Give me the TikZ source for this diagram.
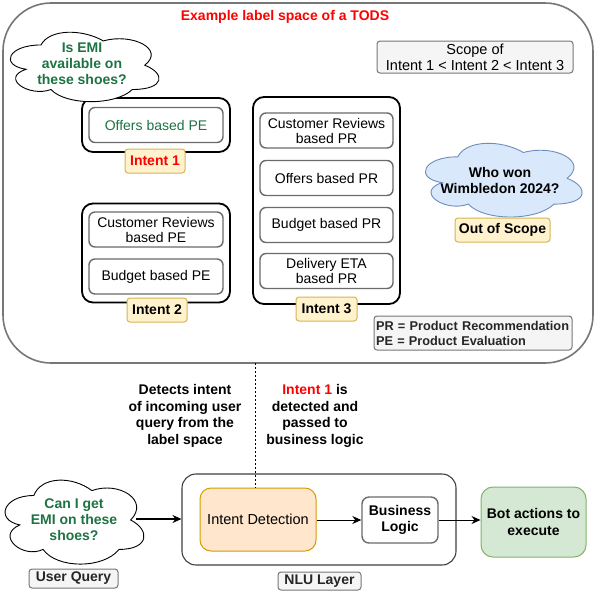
\documentclass[tikz,border=0pt]{standalone}
\usepackage{fontspec}
\setmainfont{Liberation Sans}
\usetikzlibrary{arrows.meta}
\definecolor{tgreen}{HTML}{1E7343}
\definecolor{yfill}{HTML}{FFF2CC}
\definecolor{ystroke}{HTML}{D6B656}
\definecolor{gfill}{HTML}{F5F5F5}
\definecolor{gstroke}{HTML}{777777}
\definecolor{ofill}{HTML}{FFE6CC}
\definecolor{ostroke}{HTML}{D79B00}
\definecolor{grfill}{HTML}{D5E8D4}
\definecolor{grstroke}{HTML}{82B366}
\definecolor{bfill}{HTML}{DAE8FC}
\definecolor{bstroke}{HTML}{6C8EBF}
\tikzset{
  base/.style={font=\fontsize{14}{15}\selectfont, align=center, inner sep=1pt},
  outerbox/.style={draw=gstroke, line width=1.6pt, rounded corners=48pt},
  container/.style={draw=black, line width=1.8pt, rounded corners=11pt, minimum width=148pt},
  itembox/.style={base, draw=gstroke!90!black, line width=1.4pt, rounded corners=6pt, minimum width=134pt, minimum height=35pt},
  ylabel/.style={base, font=\fontsize{14}{15}\selectfont\bfseries, fill=yfill, draw=ystroke, line width=1pt, rounded corners=3pt, minimum height=24pt},
  glabel/.style={base, font=\fontsize{14}{15}\selectfont\bfseries, text=black!85, fill=gfill, draw=gstroke, line width=1pt, rounded corners=3pt},
  cloudline/.style={draw=black, line width=0.9pt, fill=white},
  btext/.style={base, font=\fontsize{14}{16}\selectfont\bfseries},
  arr/.style={-{Stealth[length=9pt,width=8pt]}, line width=1pt},
}
% draw.io style cloud: #1 style, #2 x0, #3 y0, #4 w, #5 h
\newcommand{\dcloud}[5]{%
  \path[#1] ({#2+0.25*#4},{#3+0.25*#5})
    .. controls ({#2+0.05*#4},{#3+0.25*#5}) and ({#2},{#3+0.5*#5}) .. ({#2+0.16*#4},{#3+0.55*#5})
    .. controls ({#2},{#3+0.66*#5}) and ({#2+0.18*#4},{#3+0.9*#5}) .. ({#2+0.31*#4},{#3+0.8*#5})
    .. controls ({#2+0.4*#4},{#3+#5}) and ({#2+0.7*#4},{#3+#5}) .. ({#2+0.8*#4},{#3+0.8*#5})
    .. controls ({#2+#4},{#3+0.8*#5}) and ({#2+#4},{#3+0.6*#5}) .. ({#2+0.875*#4},{#3+0.5*#5})
    .. controls ({#2+#4},{#3+0.3*#5}) and ({#2+0.8*#4},{#3+0.1*#5}) .. ({#2+0.625*#4},{#3+0.2*#5})
    .. controls ({#2+0.5*#4},{#3+0.05*#5}) and ({#2+0.3*#4},{#3+0.05*#5}) .. cycle;}
\begin{document}
\begin{tikzpicture}[x=1pt,y=-1pt]
\useasboundingbox (0,0) rectangle (596,590);
\fill[white] (0,0) rectangle (596,590);

% outer label space
\node[outerbox, minimum width=590pt, minimum height=360pt, inner sep=0pt] (space) at (298,183) {};
\node[btext, text=red] (title) at (285,17) {Example label space of a TODS};

% intent 1
\node[container, minimum height=54pt] (c1) at (156,125) {};
\node[itembox, text=tgreen] (o1) at (156,125) {Offers based PE};
\node[ylabel, text=red, minimum width=60pt] (i1) at (155,161) {Intent 1};

% cloud 1
\dcloud{cloudline}{-0.5}{24.7}{166}{81}
\node[btext, text=tgreen] (q1) at (82,64) {Is EMI\\available on\\these shoes?};

% intent 2
\node[container, minimum height=99pt] (c2) at (156,253) {};
\node[itembox] (cr2) at (156,229.5) {Customer Reviews\\based PE};
\node[itembox] (b2) at (156,276.5) {Budget based PE};
\node[ylabel, minimum width=60pt] (i2) at (157,310) {Intent 2};

% intent 3
\node[container, minimum width=147pt, minimum height=207pt] (c3) at (326.5,200.5) {};
\node[itembox, minimum width=133pt] (cr3) at (326.5,130.5) {Customer Reviews\\based PR};
\node[itembox, minimum width=133pt] (o3) at (326.5,178) {Offers based PR};
\node[itembox, minimum width=133pt] (b3) at (326.5,225) {Budget based PR};
\node[itembox, minimum width=133pt] (d3) at (326.5,271) {Delivery ETA\\based PR};
\node[ylabel, minimum width=61pt] (i3) at (326.5,309) {Intent 3};

% scope
\node[base, font=\fontsize{14.5}{16}\selectfont, fill=gfill, draw=gstroke, line width=1pt, rounded corners=3pt, minimum width=196pt, minimum height=32pt] (scope) at (475,57) {Scope of\\Intent 1 < Intent 2 < Intent 3};

% out of scope cloud
\dcloud{cloudline, fill=bfill, draw=bstroke}{414}{135.3}{175}{86}
\node[btext] (q2) at (500,180) {Who won\\Wimbledon 2024?};
\node[ylabel, minimum width=95pt] (oos) at (502.5,230) {Out of Scope};

% legend
\node[base, font=\fontsize{12.75}{15}\selectfont\bfseries, align=left, text=black!85, fill=gfill, draw=gstroke, line width=1pt, rounded corners=3pt, minimum width=198pt, minimum height=34pt, text width=194pt] (leg) at (473,333) {PR = Product Recommendation\\PE = Product Evaluation};

% annotations
\node[btext, font=\fontsize{14}{16.5}\selectfont\bfseries] (ann1) at (185,416) {Detects intent\\of incoming user\\query from the\\label space};
\node[btext, font=\fontsize{14}{16.5}\selectfont\bfseries] (ann2) at (315,416) {\textcolor{red}{Intent 1} is\\detected and\\passed to\\business logic};

% NLU layer
\node[draw=black!75, line width=1.1pt, rounded corners=14pt, minimum width=274pt, minimum height=91pt, inner sep=0pt] (nlu) at (319,519.5) {};
\node[glabel, minimum width=83pt, minimum height=18pt] (nlul) at (319.5,581) {NLU Layer};

\node[base, font=\fontsize{14.5}{16}\selectfont, fill=ofill, draw=ostroke, line width=1pt, rounded corners=11pt, minimum width=116pt, minimum height=63pt] (id) at (258,519.5) {Intent Detection};
\node[btext, draw=gstroke!90!black, line width=1.4pt, rounded corners=7pt, minimum width=76pt, minimum height=46pt] (bl) at (400,520) {Business\\Logic};
\node[btext, font=\fontsize{14}{16.5}\selectfont\bfseries, fill=grfill, draw=grstroke, line width=1pt, rounded corners=12pt, minimum width=105pt, minimum height=70pt] (bot) at (533.5,522) {Bot actions to\\execute};

% user query cloud
\dcloud{cloudline}{-5}{471}{155}{98}
\node[btext, text=tgreen] (uq) at (74,520) {Can I get\\EMI on these\\shoes?};
\coordinate (uqe) at (136,519);
\node[glabel, minimum width=89pt, minimum height=19pt] (uql) at (73.5,578.5) {User Query};

% connectors
\coordinate (dtop) at (255,363);
\draw[line width=0.8pt, dash pattern=on 2pt off 2pt] (dtop) -- (dtop |- id.north);
\draw[arr, line width=1.3pt] (uqe) -- (nlu.west |- uqe);
\draw[arr] (id.east |- bl.west) -- (bl.west);
\draw[arr] (bl.east) -- (bot.west |- bl.east);
\end{tikzpicture}
\end{document}
